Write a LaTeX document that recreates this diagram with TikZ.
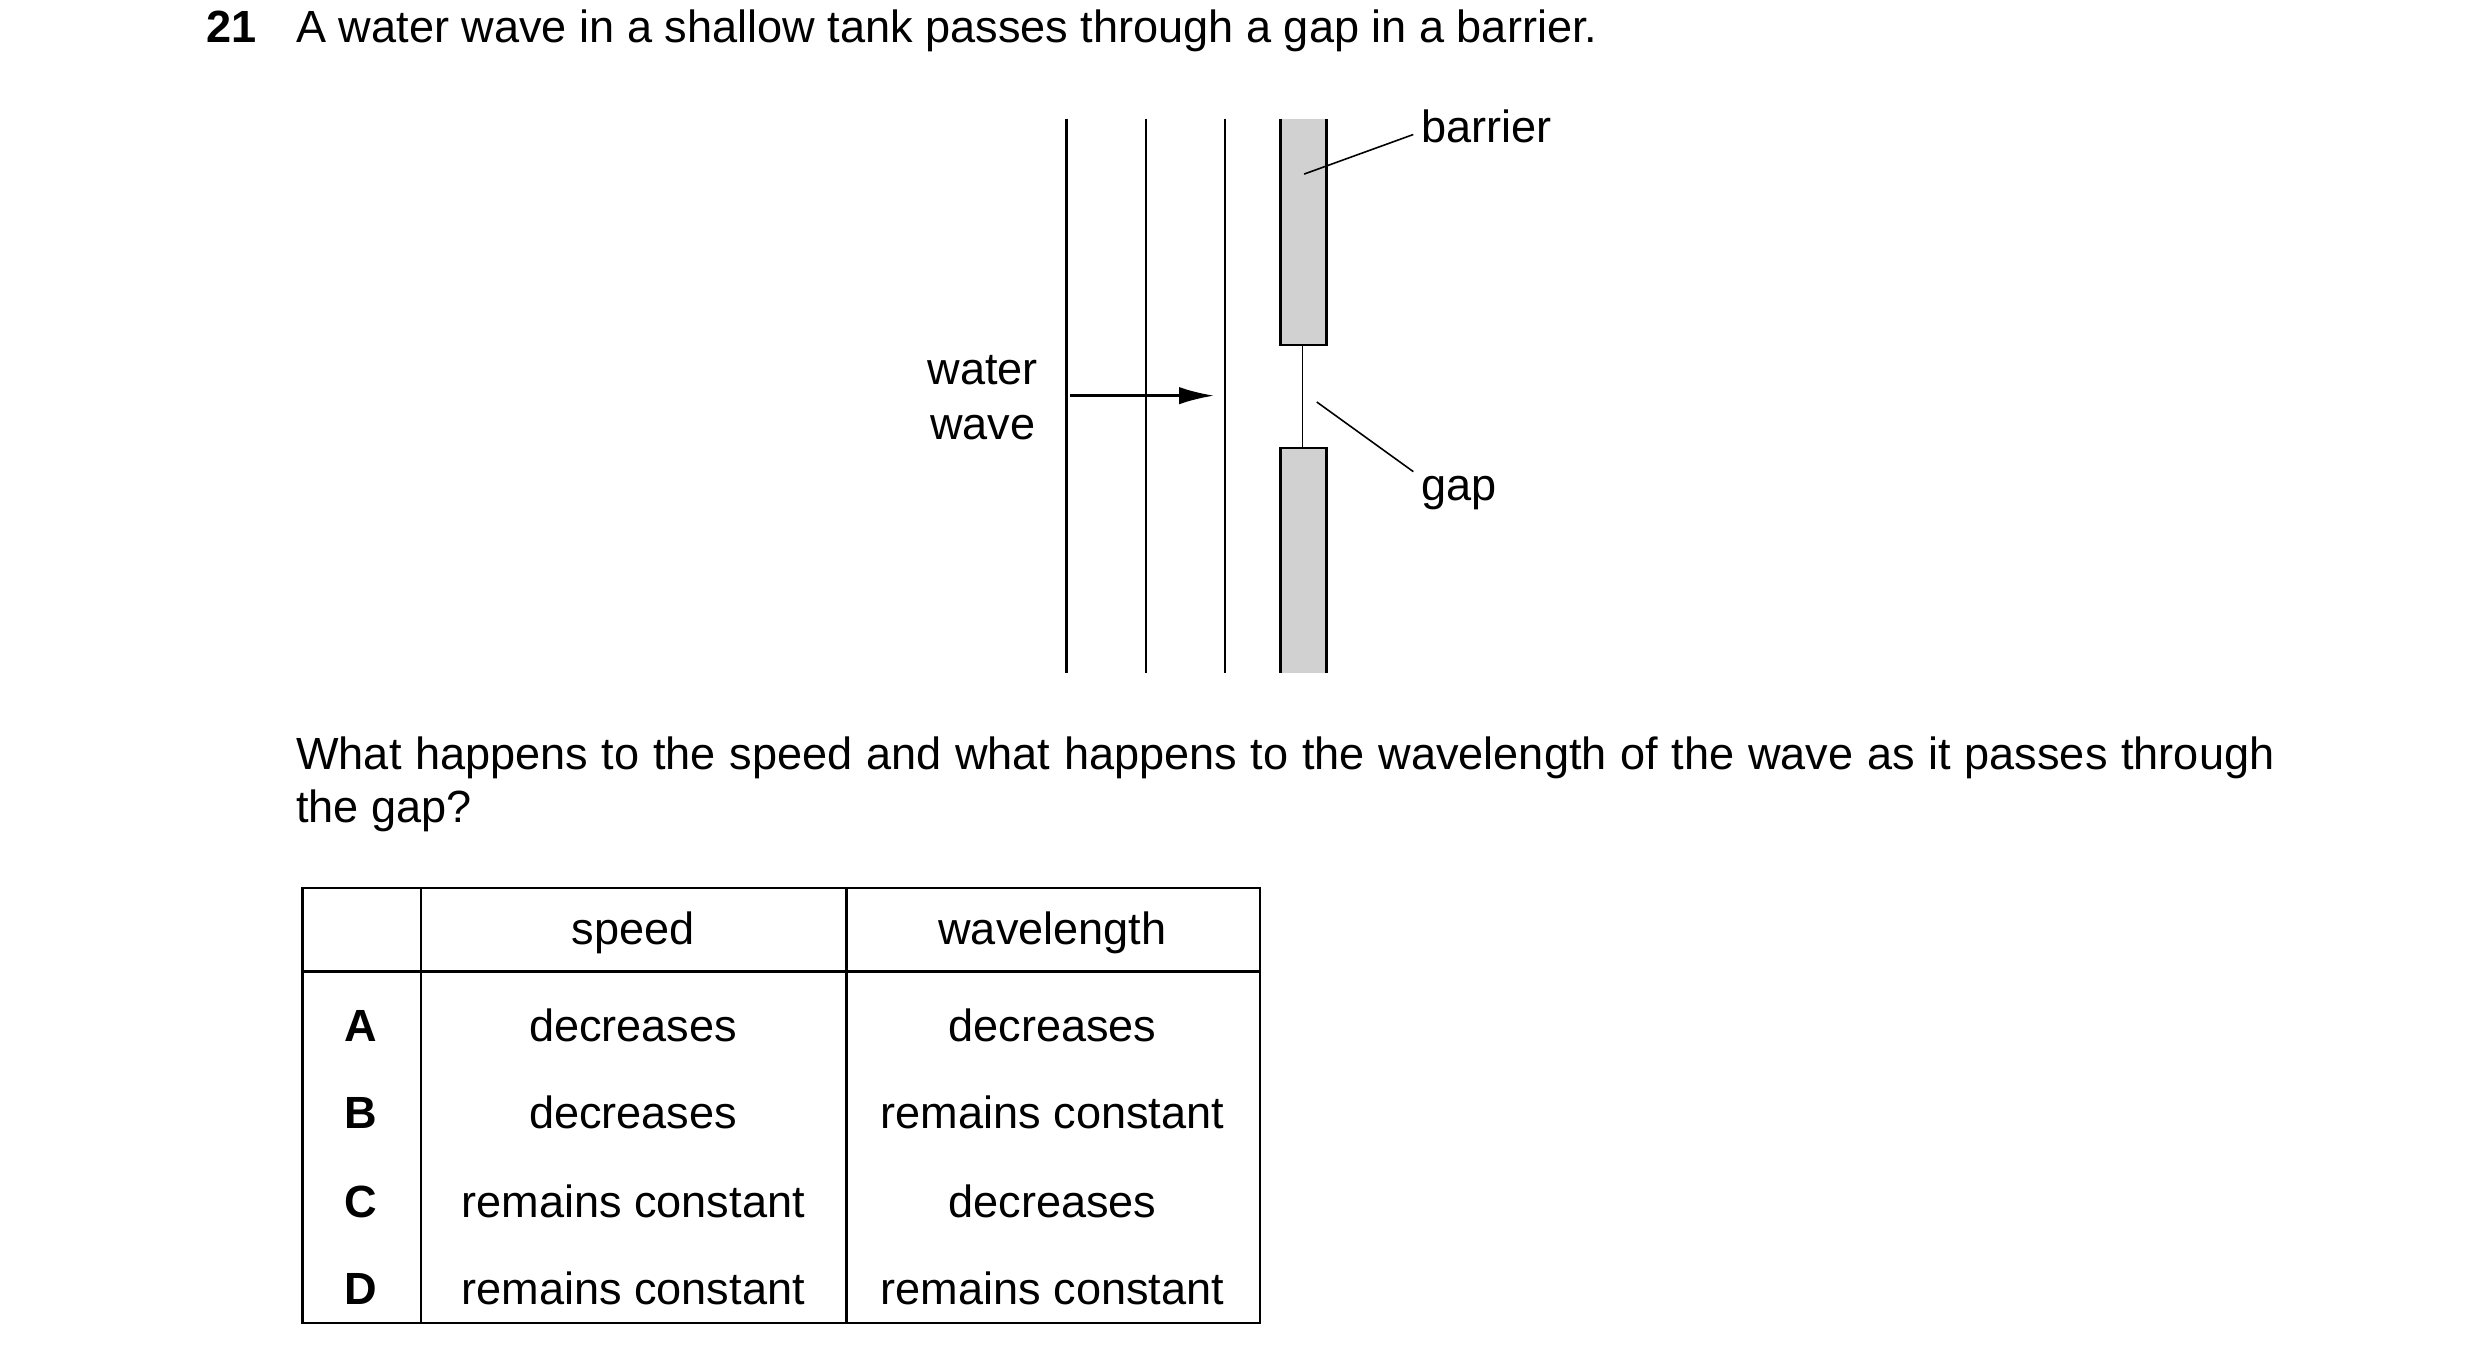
\documentclass[tikz,border=0pt]{standalone}
\usepackage{fontspec}
\setmainfont{Liberation Sans}
\usetikzlibrary{arrows.meta}
\begin{document}
\begin{tikzpicture}[x=1pt,y=-1pt,
  txt/.style={inner sep=0pt,font=\fontsize{28.5}{34}\selectfont},
  ln/.style={line width=1.6pt}]
\useasboundingbox (0,0) rectangle (1567,861);
\node[txt,anchor=base west,font=\fontsize{28.5}{34}\selectfont\bfseries] (num) at (130,27) {21};
\node[txt,anchor=base west] (title) at (187,27) {A water wave in a shallow tank passes through a gap in a barrier.};
% wavefronts
\foreach \x/\n in {674/w1,724/w2,774/w3}{\draw[ln] (\x,75) coordinate (\n t) -- (\x,425) coordinate (\n b);}
% barrier
\fill[black!18] (809,75) rectangle (838,218);
\draw[ln] (809,75) -- (809,218) -- (838,218) -- (838,75);
\fill[black!18] (809,283) rectangle (838,425);
\draw[ln] (809,425) -- (809,283) -- (838,283) -- (838,425);
\draw[line width=1.2pt] (823,218) -- (823,283);
\node[txt,anchor=base west] (barrier) at (898,90) {barrier};
\node[txt,anchor=base west] (gap) at (898,316) {gap};
\coordinate (bp) at (824,110); \coordinate (gp) at (832,254);
\draw[line width=1pt] (bp) -- (893,85);
\draw[line width=1pt] (gp) -- (893,298);
\node[txt,anchor=base] (water) at (621,243) {water};
\node[txt,anchor=base] (wave) at (621,278) {wave};
\coordinate (as) at (676,250); \coordinate (ae) at (767,250);
\draw[ln,-{Latex[length=22pt,width=11pt]}] (as) -- (ae);
% question
\node[txt,anchor=base west,text width=1250pt,align=justify] (q) at (187,486) {What happens to the speed and what happens to the wavelength of the wave as it passes through the gap?};
% table
\draw[ln] (191,561) rectangle (796,836);
\draw[ln] (191,614) -- (796,614);
\draw[ln] (266,561) -- (266,836);
\draw[ln] (535,561) -- (535,836);
\node[txt,anchor=base] (hs) at (400,597) {speed};
\node[txt,anchor=base] (hw) at (665,597) {wavelength};
\foreach \y/\l/\s/\w in {658/A/decreases/decreases,713/B/decreases/remains constant,769/C/remains constant/decreases,824/D/remains constant/remains constant}{
  \node[txt,anchor=base,font=\fontsize{28.5}{34}\selectfont\bfseries] at (228,\y) {\l};
  \node[txt,anchor=base] at (400,\y) {\s};
  \node[txt,anchor=base] at (665,\y) {\w};
}
\end{tikzpicture}
\end{document}
